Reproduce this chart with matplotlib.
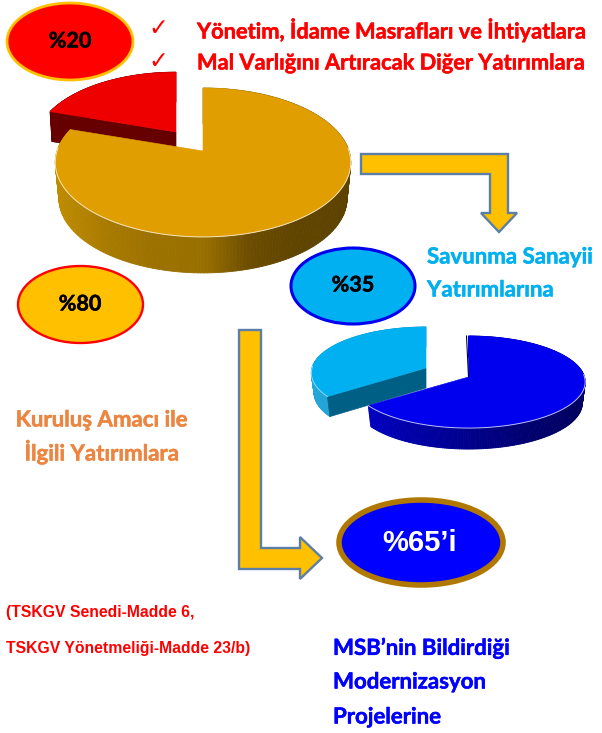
import numpy as np
import matplotlib
matplotlib.use("Agg")
import matplotlib.pyplot as plt
import matplotlib.patheffects as pe
from matplotlib.patches import Ellipse, Polygon
from matplotlib.colors import LinearSegmentedColormap

# ---- data ----
first_split_values = [80, 20]
second_split_values = [65, 35]
first_split_labels = ["%80", "%20"]
second_split_labels = ["%65’i", "%35"]
header_items = ["Yönetim, İdame Masrafları ve İhtiyatlara",
                "Mal Varlığını Artıracak Diğer Yatırımlara"]
defence_lines = ["Savunma Sanayii", "Yatırımlarına"]
purpose_lines = ["Kuruluş Amacı ile", "İlgili Yatırımlara"]
source_lines = ["(TSKGV Senedi-Madde 6,", "TSKGV Yönetmeliği-Madde 23/b)"]
project_lines = ["MSB’nin Bildirdiği", "Modernizasyon", "Projelerine"]

W, H = 602, 733
fig = plt.figure(figsize=(W / 100, H / 100), dpi=100, facecolor="white")
ax = fig.add_axes([0, 0, 1, 1])
ax.set_xlim(0, W)
ax.set_ylim(H, 0)
ax.axis("off")

LATO = ["Lato", "DejaVu Sans"]


def project(t, cx, cy, R, c, k, scale=1.0):
    """Perspective view of a circle: t in degrees, returns pixel positions."""
    t = np.radians(t)
    X, Y = np.cos(t), np.sin(t)
    d = 1 + k * Y
    return cx + scale * R * X / d, cy - scale * c * Y / d


def slice3d(share, start, cx, cy, R, c, k, depth, top, side_cmap, scale=1.0,
            shrink=0.975, front=None, z=2, rim="white"):
    """One extruded slice; start and sweep (clockwise) come from the share."""
    t = np.linspace(start, start - share * 3.6, 240)
    x, y = project(t, cx, cy, R, c, k, scale)
    xb = cx + (x - cx) * shrink
    yb = y + depth
    lo, hi = cx - R * scale, cx + R * scale
    for i in range(len(t) - 1):
        col = side_cmap((0.5 * (x[i] + x[i + 1]) - lo) / (hi - lo))
        ax.add_patch(Polygon([(x[i], y[i]), (x[i + 1], y[i + 1]),
                              (xb[i + 1], yb[i + 1]), (xb[i], yb[i])],
                             closed=True, fc=col, ec=col, lw=0.6, zorder=z))
    if front is not None:
        ex, ey = x[0], y[0]
        exb = cx + (ex - cx) * shrink
        ax.add_patch(Polygon([(cx, cy), (ex, ey), (exb, ey + depth), (cx, cy + depth)],
                             closed=True, fc=front, ec=front, lw=0.5, zorder=z))
    ax.add_patch(Polygon(np.r_[[[cx, cy]], np.c_[x, y]], closed=True,
                         fc=top, ec=top, lw=0.4, zorder=z + 0.1))
    keep = np.sin(np.radians(t)) < 0.05
    ax.plot(np.where(keep, x, np.nan), y, color=rim, lw=0.7, alpha=0.75, zorder=z + 0.2)


def cmap(*cols):
    return LinearSegmentedColormap.from_list("g", cols)


gold_side = cmap("#BE8B00", "#A87A00", "#9C7100", "#997000", "#6B4C00", "#5F4400", "#5E4300")
red_side = cmap("#660000", "#660000")
blue_side = cmap("#0000C8", "#0000A8", "#00008C", "#000070", "#000060")
cyan_side = cmap("#24A6D8", "#1C9CCE", "#1C9CCE")

# First pie
slice3d(first_split_values[1], 162, 176, 132, 146, 72.7, 0.154, 30, "#EE0000", red_side,
        scale=0.95, shrink=0.985, front="#660000", z=2)
slice3d(first_split_values[0], 90, 203, 151, 146, 72.7, 0.154, 36, "#E09E00", gold_side, z=3)

# Second pie
slice3d(second_split_values[1], 216, 426, 368, 114, 45.5, 0.109, 20, "#00B0F0", cyan_side,
        front="#005F85", z=2, rim="#BFE9FA")
slice3d(second_split_values[0], 90, 468.5, 377, 116, 45.5, 0.109, 21, "#0000EE", blue_side, z=3)
ax.plot([466.5, 468.5], [336, 377], color="#000050", lw=0.8, zorder=3.4)


def oval(x0, x1, y0, y1, fc, ec, lw):
    ax.add_patch(Ellipse(((x0 + x1) / 2, (y0 + y1) / 2), x1 - x0, y1 - y0,
                         fc=fc, ec=ec, lw=lw, zorder=5))


oval(7, 133, 3, 80, "#FF0000", "#FFC000", 2)
oval(18, 143, 266, 343, "#FFC000", "#FF0000", 1.7)
oval(291, 415, 248, 324, "#00B0F0", "#0000EE", 2.2)
oval(339, 503, 500, 585, "#0000FF", "#B07800", 4)


def label(x, y, s, size, color="black", ha="center", family=LATO, weight="bold", bold=0.35, **kw):
    t = ax.text(x, y, s, fontsize=size, color=color, ha=ha, va="center",
                family=family, weight=weight, zorder=6, **kw)
    if bold:
        t.set_path_effects([pe.withStroke(linewidth=bold, foreground=color)])


label(70, 41, first_split_labels[1], 15.5)
label(80, 304, first_split_labels[0], 15.5)
label(353, 285, second_split_labels[1], 15.5)
label(420, 543, second_split_labels[0], 21, color="white", family=["Liberation Sans"], bold=0)

for y, s in zip([30, 63], header_items):
    label(158, y - 2, "✓", 17, color="#FF0000", family=["DejaVu Sans"], weight="normal", bold=0)
    label(197, y, s, 15.7, color="#FF0000", ha="left")

for y, s in zip([257, 290], defence_lines):
    label(427, y, s, 16, color="#00B0F0", ha="left")
for y, s in zip([420, 452], purpose_lines):
    label(102, y, s, 16, color="#EC8540")
for y, s in zip([612, 648], source_lines):
    label(6, y, s, 11.3, color="#FF0000", ha="left", family=["Liberation Sans"], bold=0)
for y, s in zip([648, 682, 717], project_lines):
    label(333, y, s, 16, color="#0000FF", ha="left")


def arrow(points):
    ax.add_patch(Polygon(points, closed=True, fc="#FFC000", ec="#5B7FA6", lw=1.7,
                         joinstyle="miter", zorder=4))


arrow([(361, 154), (508, 154), (508, 213), (517, 213), (499, 232), (481, 213),
       (490, 213), (490, 174), (361, 174)])
arrow([(239, 330), (261, 330), (261, 548), (300, 548), (300, 537), (322, 558),
       (300, 579), (300, 569), (239, 569)])

fig.savefig("out.png", dpi=100)
